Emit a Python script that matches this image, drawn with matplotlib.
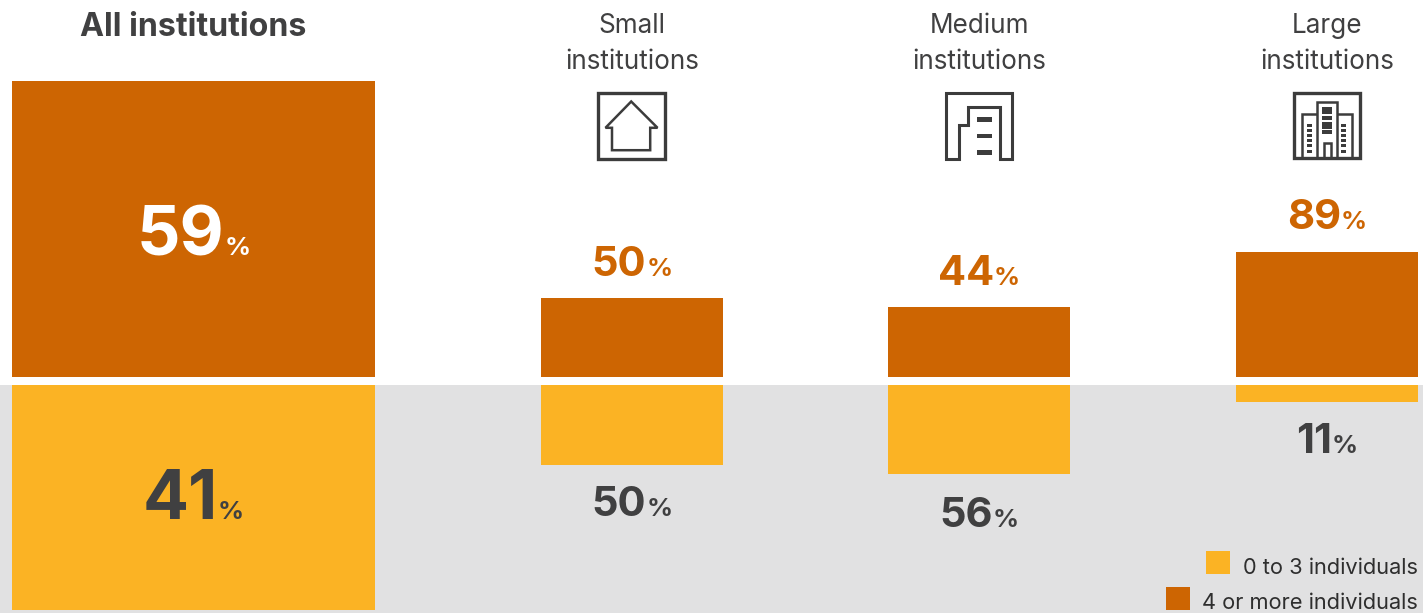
import matplotlib
matplotlib.use("Agg")
import matplotlib.pyplot as plt
from matplotlib.patches import Rectangle

plt.rcParams["font.family"] = ["Inter", "Liberation Sans", "DejaVu Sans"]

# Share of institutions by number of individuals, in percent
panels = ["All institutions", "Small\ninstitutions", "Medium\ninstitutions", "Large\ninstitutions"]
four_or_more = [59, 50, 44, 89]
zero_to_three = [41, 50, 56, 11]
legend_labels = ["0 to 3 individuals", "4 or more individuals"]

W, H = 1423, 613
ORANGE = "#CD6502"
YELLOW = "#FBB324"
DARK = "#404041"
BAND = "#E1E1E2"
ICON = "#3C3C3C"

# Layout in pixels: left edge, right edge, bar scale above and below the axis
left_edges = [12, 541, 888, 1236]
right_edges = [375, 723, 1070, 1418]
scale_up = [5.017, 1.58, 1.59, 1.404]
scale_down = [5.488, 1.60, 1.59, 1.55]
base_up, base_down = 377, 385

fig = plt.figure(figsize=(W / 100, H / 100), dpi=100, facecolor="white")

# Grey band behind the lower half of the chart
back = fig.add_axes([0, 0, 1, 1], zorder=0)
back.set_xlim(0, W)
back.set_ylim(H, 0)
back.axis("off")
back.add_patch(Rectangle((0, base_down), W, H - base_down, color=BAND, lw=0))

# Text and icon layer in pixel units, y running downward, above the bars
page = fig.add_axes([0, 0, 1, 1], zorder=5)
page.set_xlim(0, W)
page.set_ylim(H, 0)
page.axis("off")


def half_bar(x0, x1, value, scale, upward, color):
    """One bar in its own axes, whose height follows the value and scale."""
    h = value * scale
    y_top = base_up - h if upward else base_down
    ax = fig.add_axes([x0 / W, 1 - (y_top + h) / H, (x1 - x0) / W, h / H], zorder=2)
    ax.bar([0], [value], width=1, color=color, linewidth=0)
    ax.set_xlim(-0.5, 0.5)
    ax.set_ylim(0, value)
    if not upward:
        ax.invert_yaxis()
    ax.axis("off")


def value_label(cx, baseline, value, color, big, small, gap):
    """Number followed by a smaller percent sign, centred as a pair on cx."""
    a = page.text(0, baseline, str(value), color=color, fontsize=big, fontweight="bold",
                  ha="left", va="baseline")
    b = page.text(0, baseline, "%", color=color, fontsize=small, fontweight="bold",
                  ha="left", va="baseline")
    r = fig.canvas.get_renderer()
    wa = a.get_window_extent(r).width
    wb = b.get_window_extent(r).width
    start = cx - (wa + gap + wb) / 2
    a.set_x(start)
    b.set_x(start + wa + gap)


centers = [(l + r) / 2 for l, r in zip(left_edges, right_edges)]
for i in range(4):
    half_bar(left_edges[i], right_edges[i], four_or_more[i], scale_up[i], True, ORANGE)
    half_bar(left_edges[i], right_edges[i], zero_to_three[i], scale_down[i], False, YELLOW)

# Large figures sit inside the bars of the first panel, others outside
up_base = [255, 276, 285, 229]
down_base = [519, 516, 527, 453]
up_color = ["white", ORANGE, ORANGE, ORANGE]
for i in range(4):
    big, small = (49, 18.5) if i == 0 else (30, 18.5)
    value_label(centers[i], up_base[i], four_or_more[i], up_color[i], big, small, 0)
    value_label(centers[i], down_base[i], zero_to_three[i], DARK, big, small, 0)

# Column headers
page.text(193, 36, panels[0], color=DARK, fontsize=23.2, fontweight="bold", ha="center", va="baseline")
for i in (1, 2, 3):
    top, bottom = panels[i].split("\n")
    page.text(centers[i], 33, top, color=DARK, fontsize=18.8, ha="center", va="baseline")
    page.text(centers[i], 69, bottom, color=DARK, fontsize=18.8, ha="center", va="baseline")


def stroke(points, lw=1.9, closed=False):
    xs = [p[0] for p in points]
    ys = [p[1] for p in points]
    if closed:
        page.fill(xs, ys, facecolor="none", edgecolor=ICON, lw=lw, joinstyle="miter")
    else:
        page.plot(xs, ys, color=ICON, lw=lw, solid_joinstyle="miter", solid_capstyle="butt")


def block(x0, y0, x1, y1):
    page.add_patch(Rectangle((x0, y0), x1 - x0, y1 - y0, color=ICON, lw=0))


# Small institution icon: a house in a frame
stroke([(598, 93), (664.5, 93), (664.5, 159), (598, 159)], lw=2.4, closed=True)
stroke([(631.2, 101.5), (605.5, 127.8), (612, 127.8), (612, 150.2), (650.2, 150.2),
        (650.2, 127.8), (657.5, 127.8)], lw=1.8, closed=True)

# Medium institution icon: stepped building outline
stroke([(946.2, 159), (946.2, 93), (1012, 93), (1012, 159), (1000, 159),
        (1000, 107), (968, 107), (968, 125), (959, 125), (959, 159)], lw=2.2, closed=True)
for y in (119.3, 136, 152.7):
    block(976.7, y - 2.3, 992.3, y + 2.3)

# Large institution icon: three towers in a frame
stroke([(1294, 158), (1294, 92.7), (1360.2, 92.7), (1360.2, 158)], lw=2.4, closed=True)
stroke([(1317.3, 158), (1317.3, 101.7), (1337.3, 101.7), (1337.3, 158)], lw=1.8)
stroke([(1302.3, 158), (1302.3, 114), (1317.3, 114)], lw=1.8)
stroke([(1337.3, 114), (1351.7, 114), (1351.7, 158)], lw=1.8)
stroke([(1324, 158), (1324, 142.7), (1331, 142.7), (1331, 158)], lw=1.8)
for y0, y1 in ((106.7, 114.3), (116, 120), (121.5, 128.5), (130, 134)):
    block(1322.3, y0, 1332.3, y1)
for y0 in (124, 129, 134.3, 139.3, 144.3, 149.7):
    block(1307.3, y0, 1312.3, y0 + 2.8)
    block(1341.3, y0, 1345.7, y0 + 2.8)

# Legend keys and labels
page.add_patch(Rectangle((1206, 551), 24, 23, color=YELLOW, lw=0))
page.add_patch(Rectangle((1166, 587), 24, 23, color=ORANGE, lw=0))
page.text(1418, 574, legend_labels[0], color="#2E2E2E", fontsize=15.7, ha="right", va="baseline")
page.text(1418, 609, legend_labels[1], color="#2E2E2E", fontsize=15.7, ha="right", va="baseline")

fig.savefig("out.png", dpi=100, facecolor="white")
